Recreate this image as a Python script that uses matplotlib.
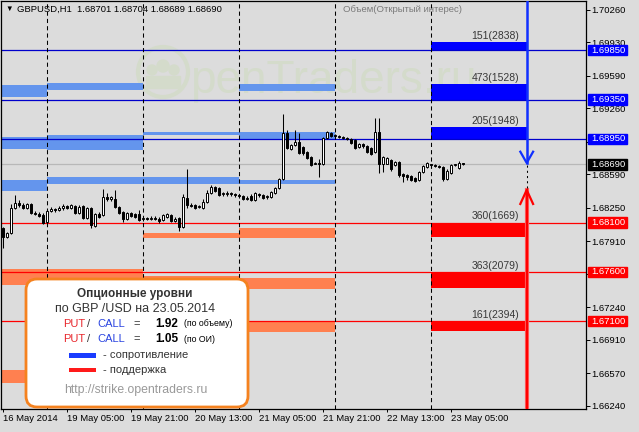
import matplotlib
matplotlib.use("Agg")
import matplotlib.pyplot as plt
import numpy as np
from matplotlib.patches import Rectangle, FancyBboxPatch, Circle
from matplotlib.transforms import blended_transform_factory

plt.rcParams['font.family'] = ['Liberation Sans', 'DejaVu Sans']

# GBPUSD H1, 16 May 2014 13:00 .. 23 May 2014 08:00
opens = [1.6804, 1.6795, 1.6799, 1.6825, 1.6830, 1.6828, 1.6825, 1.6829, 1.6820, 1.6819,
         1.6818, 1.6811, 1.6822, 1.6824, 1.6823, 1.6825, 1.6827, 1.6825, 1.6827, 1.6820,
         1.6827, 1.6815, 1.6825, 1.6807, 1.6819, 1.6818, 1.6836, 1.6834, 1.6834, 1.6826,
         1.6821, 1.6814, 1.6820, 1.6819, 1.6819, 1.6814, 1.6815, 1.6814, 1.6815, 1.6814,
         1.6813, 1.6816, 1.6818, 1.6812, 1.6815, 1.6805, 1.6835, 1.6828, 1.6828, 1.6826,
         1.6825, 1.6831, 1.6840, 1.6846, 1.6845, 1.6839, 1.6839, 1.6840, 1.6839, 1.6838,
         1.6837, 1.6834, 1.6837, 1.6833, 1.6839, 1.6838, 1.6836, 1.6836, 1.6840, 1.6845,
         1.6854, 1.6901, 1.6885, 1.6889, 1.6892, 1.6887, 1.6882, 1.6877, 1.6870, 1.6871,
         1.6869, 1.6896, 1.6901, 1.6899, 1.6898, 1.6897, 1.6896, 1.6895, 1.6894, 1.6887,
         1.6890, 1.6888, 1.6886, 1.6882, 1.6902, 1.6869, 1.6870, 1.6874, 1.6868, 1.6872,
         1.6859, 1.6858, 1.6857, 1.6855, 1.6853, 1.6861, 1.6866, 1.6869, 1.6868, 1.6867,
         1.6866, 1.6854, 1.6860, 1.6868, 1.6865, 1.68701]
highs = [1.6805, 1.6800, 1.6829, 1.6838, 1.6833, 1.6830, 1.6830, 1.6830, 1.6822, 1.6821,
         1.6820, 1.6823, 1.6826, 1.6825, 1.6827, 1.6829, 1.6828, 1.6829, 1.6828, 1.6828,
         1.6828, 1.6826, 1.6826, 1.6820, 1.6821, 1.6844, 1.6840, 1.6837, 1.6843, 1.6827,
         1.6822, 1.6821, 1.6821, 1.6820, 1.6823, 1.6816, 1.6816, 1.6817, 1.6817, 1.6816,
         1.6819, 1.6820, 1.6819, 1.6816, 1.6816, 1.6839, 1.6864, 1.6830, 1.6829, 1.6828,
         1.6834, 1.6843, 1.6848, 1.6847, 1.6846, 1.6841, 1.6842, 1.6841, 1.6840, 1.6839,
         1.6838, 1.6837, 1.6839, 1.6841, 1.6840, 1.6839, 1.6838, 1.6842, 1.6846, 1.6855,
         1.6920, 1.6904, 1.6890, 1.6904, 1.6901, 1.6888, 1.6883, 1.6878, 1.6872, 1.6875,
         1.6897, 1.6903, 1.6902, 1.6900, 1.6899, 1.6898, 1.6897, 1.6896, 1.6895, 1.6891,
         1.6891, 1.6889, 1.6887, 1.6916, 1.6916, 1.6878, 1.6877, 1.6875, 1.6873, 1.6873,
         1.6860, 1.6859, 1.6858, 1.6856, 1.6862, 1.6868, 1.6872, 1.6870, 1.6869, 1.6868,
         1.6867, 1.6864, 1.6869, 1.6870, 1.6873, 1.68704]
lows = [1.6784, 1.6794, 1.6798, 1.6824, 1.6826, 1.6824, 1.6824, 1.6819, 1.6818, 1.6816,
        1.6809, 1.6810, 1.6821, 1.6821, 1.6822, 1.6823, 1.6824, 1.6824, 1.6819, 1.6819,
        1.6814, 1.6814, 1.6804, 1.6805, 1.6815, 1.6817, 1.6832, 1.6832, 1.6825, 1.6819,
        1.6811, 1.6813, 1.6816, 1.6815, 1.6812, 1.6812, 1.6813, 1.6813, 1.6813, 1.6810,
        1.6812, 1.6815, 1.6811, 1.6811, 1.6801, 1.6804, 1.6825, 1.6826, 1.6824, 1.6825,
        1.6824, 1.6830, 1.6839, 1.6841, 1.6837, 1.6837, 1.6837, 1.6837, 1.6836, 1.6835,
        1.6833, 1.6833, 1.6832, 1.6832, 1.6836, 1.6834, 1.6834, 1.6835, 1.6839, 1.6844,
        1.6853, 1.6885, 1.6884, 1.6888, 1.6880, 1.6879, 1.6875, 1.6867, 1.6869, 1.6856,
        1.6868, 1.6895, 1.6897, 1.6897, 1.6896, 1.6895, 1.6894, 1.6890, 1.6885, 1.6886,
        1.6886, 1.6881, 1.6879, 1.6881, 1.6860, 1.6861, 1.6869, 1.6862, 1.6867, 1.6856,
        1.6851, 1.6853, 1.6852, 1.6851, 1.6852, 1.6860, 1.6865, 1.6866, 1.6866, 1.6865,
        1.6852, 1.6853, 1.6859, 1.6867, 1.6864, 1.68689]
closes = [1.6795, 1.6799, 1.6825, 1.6830, 1.6828, 1.6825, 1.6829, 1.6820, 1.6819, 1.6817,
          1.6810, 1.6822, 1.6824, 1.6823, 1.6825, 1.6827, 1.6825, 1.6828, 1.6820, 1.6826,
          1.6815, 1.6825, 1.6808, 1.6819, 1.6816, 1.6836, 1.6834, 1.6836, 1.6826, 1.6820,
          1.6814, 1.6820, 1.6817, 1.6816, 1.6813, 1.6815, 1.6814, 1.6815, 1.6814, 1.6812,
          1.6818, 1.6819, 1.6812, 1.6814, 1.6805, 1.6836, 1.6828, 1.6827, 1.6825, 1.6827,
          1.6831, 1.6840, 1.6846, 1.6842, 1.6838, 1.6840, 1.6840, 1.6839, 1.6838, 1.6837,
          1.6834, 1.6835, 1.6833, 1.6840, 1.6838, 1.6835, 1.6837, 1.6841, 1.6845, 1.6854,
          1.6901, 1.6886, 1.6889, 1.6892, 1.6881, 1.6881, 1.6876, 1.6868, 1.6871, 1.6869,
          1.6896, 1.6902, 1.6898, 1.6898, 1.6897, 1.6896, 1.6895, 1.6891, 1.6886, 1.6890,
          1.6888, 1.6882, 1.6880, 1.6902, 1.6869, 1.6877, 1.6876, 1.6864, 1.6872, 1.6858,
          1.6857, 1.6856, 1.6853, 1.6852, 1.6861, 1.6867, 1.6871, 1.6868, 1.6867, 1.6866,
          1.6854, 1.6862, 1.6868, 1.6869, 1.6871, 1.68690]

time_labels = ['16 May 2014', '19 May 05:00', '19 May 21:00', '20 May 13:00',
               '21 May 05:00', '21 May 21:00', '22 May 13:00', '23 May 05:00']
label_bars = [0, 16, 32, 48, 64, 80, 96, 112]

# first bar of each day: 16, 19, 20, 21, 22, 23 May
day_first_bar = [-13, 11, 35, 59, 83, 107]
levels_end = 131

price_ticks = [1.66240, 1.66570, 1.66910, 1.67240, 1.67580, 1.67910, 1.68250,
               1.68590, 1.68920, 1.69260, 1.69590, 1.69930, 1.70260]

# option levels of 23.05.2014
levels = [1.6985, 1.6935, 1.6895, 1.6810, 1.6760, 1.6710]
level_edge = [1.69932, 1.69508, 1.69068, 1.67951, 1.67439, 1.67002]
level_text = ['151(2838)', '473(1528)', '205(1948)', '360(1669)', '363(2079)', '161(2394)']
level_kind = ['res', 'res', 'res', 'sup', 'sup', 'sup']

# levels of previous days (day index, low, high, kind)
zone_day = [0, 1, 3, 0, 1, 2, 3, 0, 1, 2, 3,
            2, 3, 0, 1, 2, 3, 2, 3, 0]
zone_lo = [1.69373, 1.69450, 1.69440, 1.68851, 1.68841, 1.68990, 1.68939, 1.68424, 1.68495, 1.68495, 1.68495,
           1.67944, 1.67947, 1.67466, 1.67466, 1.67446, 1.67425, 1.66988, 1.66988, 1.66467]
zone_hi = [1.69498, 1.69518, 1.69508, 1.68970, 1.68990, 1.69020, 1.69020, 1.68533, 1.68563, 1.68563, 1.68533,
           1.67994, 1.68048, 1.67629, 1.67629, 1.67558, 1.67537, 1.67093, 1.67093, 1.66602]
zone_kind = ['res'] * 11 + ['sup'] * 9

last_price = 1.68690
ratio_volume = '1.92'
ratio_oi = '1.05'

bg = '#dcdcdc'
fig = plt.figure(figsize=(6.39, 4.32), dpi=100, facecolor=bg)
ax = fig.add_axes([1 / 639, 23 / 432, 584.5 / 639, 408 / 432])
ax.set_facecolor(bg)
ov = fig.add_axes([0, 0, 1, 1], zorder=10)
ov.set_xlim(0, 639)
ov.set_ylim(432, 0)
ov.axis('off')
ov.set_facecolor('none')

ax.set_xlim(-0.425, 145.7)
ax.set_ylim(1.66206, 1.70351)

# watermark
wm = '#d4dbcb'
ax.text(190, 93, 'penTraders.ru', transform=ov.transData, fontsize=33,
        color=wm, zorder=0.5, va='baseline')
ax.add_patch(Circle((163, 72), 25, transform=ov.transData, fill=False,
                    ec=wm, lw=3, zorder=0.5))
for cx, cy, r in [(152, 70, 5), (163, 66, 6), (174, 70, 5)]:
    ax.add_patch(Circle((cx, cy), r, transform=ov.transData, color=wm, zorder=0.5))
ax.add_patch(Rectangle((146, 76), 34, 12, transform=ov.transData, color=wm, zorder=0.5))

# old zones
for d, lo, hi, k in zip(zone_day, zone_lo, zone_hi, zone_kind):
    x0 = day_first_bar[d]
    x1 = day_first_bar[d + 1]
    col = '#6495ed' if k == 'res' else '#ff8050'
    ax.add_patch(Rectangle((x0, lo), x1 - x0, hi - lo, color=col, lw=0, zorder=1))

# today's zones
x0 = day_first_bar[-1]
for lv, ed, txt, k in zip(levels, level_edge, level_text, level_kind):
    col = '#0000ff' if k == 'res' else '#ff0000'
    lo, hi = min(lv, ed), max(lv, ed)
    ax.add_patch(Rectangle((x0, lo), levels_end - x0, hi - lo, color=col, lw=0, zorder=1.2))
    ax.axhline(lv, color='#0000cc' if k == 'res' else '#ff0000', lw=0.9, zorder=2)
    ax.annotate(txt, (129.1, hi), xytext=(0, 0.8), textcoords='offset points',
                ha='right', va='bottom', fontsize=7.5, color='#383838', zorder=4)

ax.axhline(last_price, color='#b8b8b8', lw=0.9, zorder=1.5)

for b in day_first_bar[1:]:
    ax.axvline(b, color='black', lw=0.75, ls=(0, (4, 3)), zorder=2)

# candles
xs = np.arange(len(closes))
o = np.array(opens)
c = np.array(closes)
ax.vlines(xs, lows, highs, color='black', lw=0.75, zorder=3)
body_lo = np.minimum(o, c)
body_h = np.maximum(np.abs(c - o), 0.00002)
faces = ['black' if cc < oo else 'white' for oo, cc in zip(o, c)]
ax.bar(xs, body_h, bottom=body_lo, width=0.55, color=faces, edgecolor='black',
       linewidth=0.7, zorder=3.5)

# arrows
ya, yb = ax.get_ylim()
ax.plot([levels_end, levels_end], [yb, 1.68706], color='#1030ff', lw=1.8, zorder=4)
ax.plot([levels_end - 1.6, levels_end, levels_end + 1.6], [1.68820, 1.68706, 1.68820],
        color='#1030ff', lw=1.6, zorder=4)
ax.plot([levels_end, levels_end], [ya, 1.68431], color='#ff6060', lw=3, zorder=3.9)
ax.plot([levels_end, levels_end], [ya, 1.68431], color='#ff0000', lw=1.6, zorder=4)
ax.plot([levels_end - 1.6, levels_end, levels_end + 1.6], [1.68289, 1.68431, 1.68289],
        color='#ff0000', lw=1.6, zorder=4)
ax.plot([levels_end, levels_end], [1.68452, 1.68686], color='black', lw=0.75,
        ls=(0, (2, 3)), zorder=4)

# axes
for s in ax.spines.values():
    s.set_color('black')
    s.set_linewidth(0.9)
ax.yaxis.tick_right()
ax.set_yticks(price_ticks)
ax.set_yticklabels(['%.5f' % p for p in price_ticks])
ax.tick_params(axis='y', direction='out', length=2.9, pad=1.6, labelsize=6.8, width=0.7)
ax.set_xticks(label_bars)
ax.set_xticklabels(time_labels, ha='left')
ax.tick_params(axis='x', direction='out', length=2.2, pad=1.6, labelsize=6.8, width=0.7)

bt = blended_transform_factory(ax.transAxes, ax.transData)
marks = levels + [last_price]
mark_cols = ['#0000ff'] * 3 + ['#ff0000'] * 3 + ['black']
for p, col in zip(marks, mark_cols):
    ax.add_patch(Rectangle((1.0048, p - 0.00052), 0.0667, 0.00104, transform=bt,
                           color=col, clip_on=False, zorder=5))
    ax.text(1.0094, p, '%.5f' % p, transform=bt, color='white', fontsize=6.8,
            va='center', ha='left', clip_on=False, zorder=6)

# header
ov.text(5, 9, '▼', fontsize=5.5, va='center', color='black')
ov.text(17, 9, 'GBPUSD,H1  %.5f %.5f %.5f %.5f' % (opens[-1], highs[-1], lows[-1], closes[-1]),
        fontsize=6.8, va='center', color='black')
ov.text(343, 9, 'Объем(Открытый интерес)', fontsize=6.8, va='center', color='#7a7a7a')

# info box
ov.add_patch(FancyBboxPatch((26, 279), 222, 128, boxstyle='round,pad=0,rounding_size=11',
                            fc='white', ec='#f5821f', lw=2))
dark = '#333333'
ov.text(135, 293.5, 'Опционные уровни', fontsize=8.5, weight='bold', color=dark,
        ha='center', va='center')
ov.text(135, 309.5, 'по GBP /USD на 23.05.2014', fontsize=9, color=dark,
        ha='center', va='center')
for yy, val, note in [(324, ratio_volume, '(по объему)'), (339.5, ratio_oi, '(по ОИ)')]:
    ov.text(63, yy, 'PUT', fontsize=8, color='#e8262c', va='center')
    ov.text(87, yy, '/', fontsize=8, color=dark, va='center')
    ov.text(97, yy, 'CALL', fontsize=8, color='#2a44e0', va='center')
    ov.text(133, yy, '=', fontsize=8, color=dark, va='center')
    ov.text(155, yy, val, fontsize=8.5, weight='bold', color='black', va='center')
    ov.text(184, yy, note, fontsize=6.3, color='black', va='center')
ov.add_patch(Rectangle((69, 353.3), 27, 4.3, color='#1a3cff', lw=0))
ov.text(103, 355.3, '- сопротивление', fontsize=8, color=dark, va='center')
ov.add_patch(Rectangle((69, 367.7), 27, 4.3, color='#ff1a1a', lw=0))
ov.text(103, 369.7, '- поддержка', fontsize=8, color=dark, va='center')
ov.text(136, 389.5, 'http://strike.opentraders.ru', fontsize=8.8, color='#999999',
        ha='center', va='center')

fig.savefig('out.png', dpi=100, facecolor=bg)
